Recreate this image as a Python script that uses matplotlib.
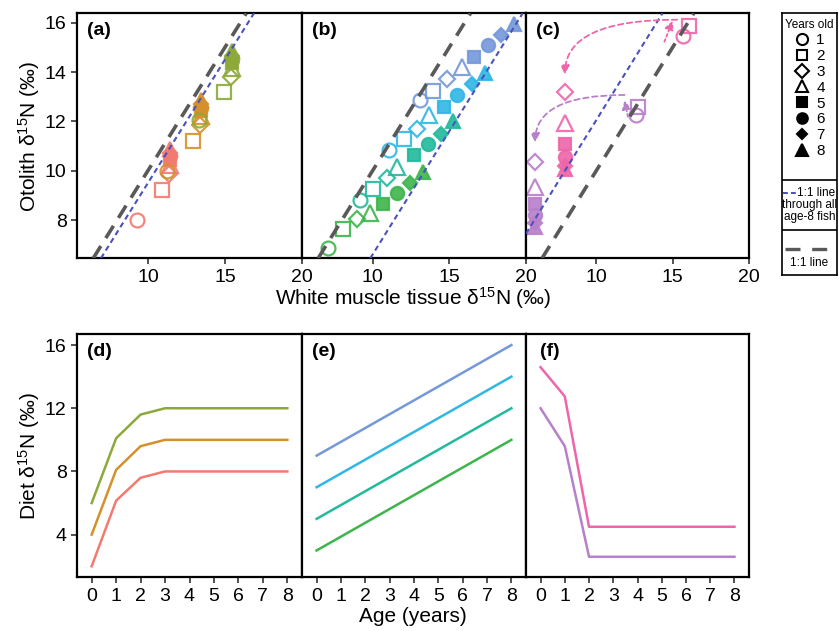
import numpy as np
import matplotlib.pyplot as plt
from matplotlib.lines import Line2D

plt.rcParams['font.family'] = ['Liberation Sans', 'DejaVu Sans']
plt.rcParams['mathtext.default'] = 'regular'

# ---------------- data ----------------
ages = np.arange(0, 9)

# colours (ggplot hue palette, as they look in the figure)
c_red, c_orange, c_olive = "#F27A70", "#D4902A", "#8DA93A"
c_green, c_teal, c_cyan, c_blue = "#3DB54C", "#22BA9C", "#2FB7E6", "#7498DA"
c_purple, c_pink = "#B87FCB", "#EE66AA"

# (a) otolith vs muscle, fish aged 1-8
a_red_x = [9.3, 10.9, 11.4, 11.45, 11.45, 11.45, 11.45, 11.45]
a_red_y = [8.0, 9.2, 9.85, 10.25, 10.45, 10.6, 10.7, 10.9]
a_orange_x = [11.25, 12.9, 13.4, 13.45, 13.45, 13.45, 13.45, 13.45]
a_orange_y = [10.0, 11.2, 11.85, 12.2, 12.4, 12.55, 12.7, 12.85]
a_olive_x = [13.3, 14.95, 15.4, 15.45, 15.45, 15.45, 15.45, 15.45]
a_olive_y = [12.05, 13.2, 13.8, 14.15, 14.35, 14.5, 14.65, 14.85]

# (b)
b_green_x = [7.1, 8.1, 9.0, 9.85, 10.7, 11.6, 12.45, 13.3]
b_green_y = [6.85, 7.65, 8.05, 8.3, 8.65, 9.1, 9.5, 9.95]
b_teal_x = [9.2, 10.0, 10.95, 11.6, 12.7, 13.6, 14.45, 15.25]
b_teal_y = [8.8, 9.25, 9.7, 10.15, 10.65, 11.1, 11.5, 12.0]
b_cyan_x = [11.1, 12.05, 12.9, 13.65, 14.65, 15.5, 16.45, 17.35]
b_cyan_y = [10.85, 11.3, 11.7, 12.25, 12.6, 13.05, 13.5, 13.95]
b_blue_x = [13.1, 13.95, 14.85, 15.8, 16.6, 17.5, 18.4, 19.25]
b_blue_y = [12.85, 13.25, 13.7, 14.2, 14.6, 15.1, 15.5, 15.95]

# (c)
c_pink_x = [15.65, 16.05, 7.95, 7.95, 7.95, 7.95, 7.95, 7.95]
c_pink_y = [15.45, 15.85, 13.2, 11.95, 11.1, 10.55, 10.2, 10.05]
c_purple_x = [12.6, 12.7, 6.0, 6.0, 6.0, 6.0, 6.0, 6.0]
c_purple_y = [12.25, 12.6, 10.35, 9.35, 8.65, 8.2, 7.9, 7.7]

# intercepts of the 1:1 line through the age-8 fish
age8_offset = {"a": -0.5, "b": -3.4, "c": 2.05}

# arrows in (c): (start, end)
c_pink_arrows = [((14.46, 15.23), (15.0, 16.08)), ((15.3, 16.12), (7.95, 13.9))]
c_purple_arrows = [((12.07, 12.19), (11.85, 12.85)), ((11.85, 13.07), (6.0, 11.15))]

# (d)-(f) diet through life
d_red = [2.0, 6.15, 7.6, 8, 8, 8, 8, 8, 8]
d_orange = [4.0, 8.1, 9.6, 10, 10, 10, 10, 10, 10]
d_olive = [6.0, 10.1, 11.6, 12, 12, 12, 12, 12, 12]
e_blue = [9.0, 9.875, 10.75, 11.625, 12.5, 13.375, 14.25, 15.125, 16.0]
e_cyan = [7.0, 7.875, 8.75, 9.625, 10.5, 11.375, 12.25, 13.125, 14.0]
e_teal = [5.0, 5.875, 6.75, 7.625, 8.5, 9.375, 10.25, 11.125, 12.0]
e_green = [3.0, 3.875, 4.75, 5.625, 6.5, 7.375, 8.25, 9.125, 10.0]
f_pink = [14.6, 12.75, 4.5, 4.5, 4.5, 4.5, 4.5, 4.5, 4.5]
f_purple = [12.0, 9.6, 2.6, 2.6, 2.6, 2.6, 2.6, 2.6, 2.6]

shapes = ['o', 's', 'D', '^', 's', 'o', 'D', '^']
filled = [False, False, False, False, True, True, True, True]
msizes = [10, 9.5, 8.5, 11, 9, 9.5, 7, 10.5]

# ---------------- figure ----------------
W, H = 839, 631
fig = plt.figure(figsize=(W / 100, H / 100), dpi=100)


def box(x0, y0, x1, y1):
    return [x0 / W, 1 - y1 / H, (x1 - x0) / W, (y1 - y0) / H]


lefts = [77, 302, 526]
rights = [302, 526, 749]
top_axes = [fig.add_axes(box(lefts[i], 13.3, rights[i], 258.3)) for i in range(3)]
bot_axes = [fig.add_axes(box(lefts[i], 334, rights[i], 577.3)) for i in range(3)]

gray = "#595959"
bline = "#4A52BC"


def style(ax, first):
    for s in ax.spines.values():
        s.set_linewidth(1.6)
        s.set_color("black")
    ax.tick_params(labelsize=14, length=4, width=1.2, color="#333333")
    if not first:
        ax.tick_params(axis="y", left=False, labelleft=False)


def fish(ax, xs, ys, color):
    for i in range(8):
        ax.plot(xs[i], ys[i], ls="none", marker=shapes[i], ms=msizes[i],
                mfc=color if filled[i] else "none", mec=color, mew=1.6,
                alpha=0.9, zorder=2)


panels = [
    [(a_red_x, a_red_y, c_red), (a_orange_x, a_orange_y, c_orange), (a_olive_x, a_olive_y, c_olive)],
    [(b_green_x, b_green_y, c_green), (b_teal_x, b_teal_y, c_teal),
     (b_cyan_x, b_cyan_y, c_cyan), (b_blue_x, b_blue_y, c_blue)],
    [(c_pink_x, c_pink_y, c_pink), (c_purple_x, c_purple_y, c_purple)],
]

for i, (ax, key) in enumerate(zip(top_axes, "abc")):
    for xs, ys, col in panels[i]:
        fish(ax, xs, ys, col)
    ax.axline((0, 0), slope=1, color=gray, lw=2.6, dashes=(4, 2.6), zorder=3)
    ax.axline((0, age8_offset[key]), slope=1, color=bline, lw=1.5, dashes=(2.6, 1.8), zorder=3)
    ax.set_xlim(5.4, 20.0)
    ax.set_ylim(6.45, 16.38)
    ax.set_xticks([10, 15, 20])
    ax.set_yticks([8, 10, 12, 14, 16])
    style(ax, i == 0)
    ax.text(0.045, 0.965, f"({key})", transform=ax.transAxes, fontsize=14,
            fontweight="bold", va="top", ha="left")

ax_c = top_axes[2]
for arrows, col in [(c_pink_arrows, c_pink), (c_purple_arrows, c_purple)]:
    (s0, e0), (s1, e1) = arrows
    ax_c.annotate("", xy=e0, xytext=s0,
                  arrowprops=dict(arrowstyle="-|>", color=col, lw=1.3, linestyle=(0, (1.5, 1.5)),
                                  shrinkA=0, shrinkB=0, mutation_scale=13))
    ax_c.annotate("", xy=e1, xytext=s1,
                  arrowprops=dict(arrowstyle="-|>", color=col, lw=1.3, linestyle=(0, (3, 2)),
                                  connectionstyle="angle3,angleA=0,angleB=90",
                                  shrinkA=0, shrinkB=0, mutation_scale=13))

bottom_series = [
    [(d_red, c_red), (d_orange, c_orange), (d_olive, c_olive)],
    [(e_blue, c_blue), (e_cyan, c_cyan), (e_teal, c_teal), (e_green, c_green)],
    [(f_pink, c_pink), (f_purple, c_purple)],
]
for i, (ax, key) in enumerate(zip(bot_axes, "def")):
    for vals, col in bottom_series[i]:
        ax.plot(ages, vals, color=col, lw=1.8)
    ax.set_xlim(-0.6, 8.6)
    ax.set_ylim(1.3, 16.7)
    ax.set_xticks(ages)
    ax.set_yticks([4, 8, 12, 16])
    style(ax, i == 0)
    ax.text(0.045 if key != "f" else 0.065, 0.965, f"({key})", transform=ax.transAxes,
            fontsize=14, fontweight="bold", va="top", ha="left")

fig.text(413 / W, 1 - 298 / H, "White muscle tissue δ$^{15}$N (‰)", fontsize=15,
         ha="center", va="center")
fig.text(413 / W, 1 - 617 / H, "Age (years)", fontsize=15, ha="center", va="center")
fig.text(29 / W, 1 - 136 / H, "Otolith δ$^{15}$N (‰)", fontsize=15, rotation=90,
         ha="center", va="center")
fig.text(29 / W, 1 - 456 / H, "Diet δ$^{15}$N (‰)", fontsize=15, rotation=90,
         ha="center", va="center")

# ---------------- legend box ----------------
lg = fig.add_axes(box(782, 13.3, 837, 275))
lg.set_xlim(0, 1)
lg.set_ylim(0, 1)
lg.set_xticks([])
lg.set_yticks([])
for s in lg.spines.values():
    s.set_linewidth(1.2)

handles = [Line2D([], [], ls="none", marker=shapes[i], ms=msizes[i] * 0.8,
                  mfc="black" if filled[i] else "none", mec="black", mew=1.5)
           for i in range(8)]
leg = lg.legend(handles, [str(i) for i in range(1, 9)], title="Years old",
                loc="upper center", bbox_to_anchor=(0.5, 1.0), frameon=False,
                fontsize=11, title_fontsize=8.5, labelspacing=0.12,
                handlelength=1.0, handletextpad=0.45, borderaxespad=0.1,
                borderpad=0.3)

lg.axhline(0.363, color="black", lw=1.2)
lg.axhline(0.172, color="black", lw=1.2)
lg.plot([0.02, 0.26], [0.312, 0.312], color=bline, lw=1.4, dashes=(2.5, 1.6))
lg.text(0.28, 0.312, "1:1 line", fontsize=8.5, va="center", ha="left")
lg.text(0.5, 0.268, "through all", fontsize=8.5, va="center", ha="center")
lg.text(0.5, 0.223, "age-8 fish", fontsize=8.5, va="center", ha="center")
lg.plot([0.06, 0.94], [0.10, 0.10], color=gray, lw=2.4, dashes=(4.5, 3.5))
lg.text(0.5, 0.045, "1:1 line", fontsize=8.5, va="center", ha="center")

fig.savefig("out.png", dpi=100)
